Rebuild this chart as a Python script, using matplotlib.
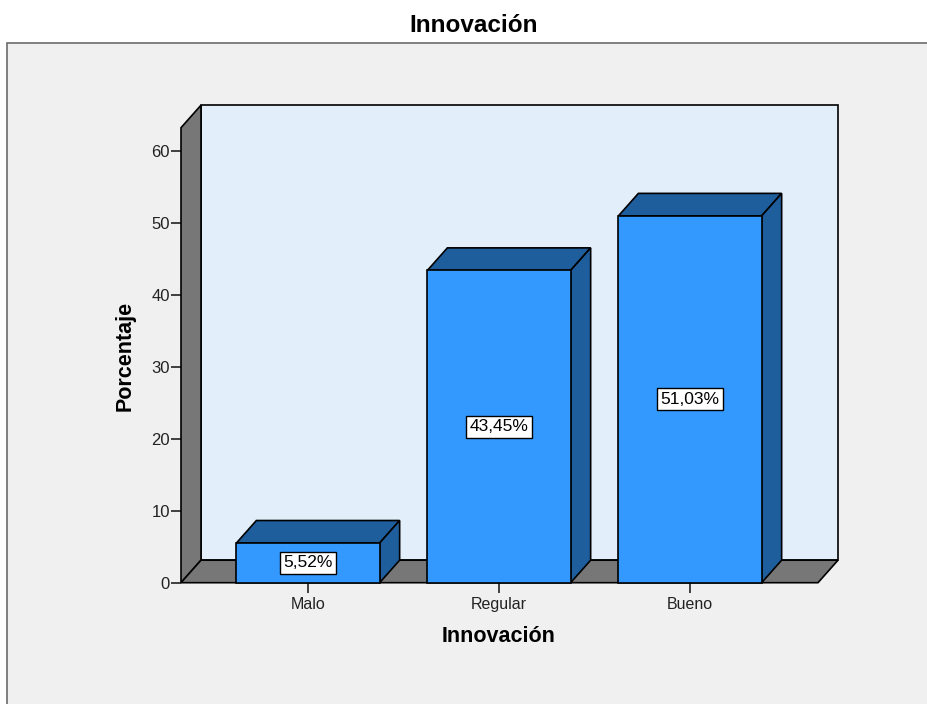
"""
SPSS-style 3D bar chart: Innovación.
"""

import matplotlib
matplotlib.use('Agg')
import matplotlib.pyplot as plt
from matplotlib.patches import Polygon, Rectangle

plt.rcParams['font.family'] = ['Liberation Sans', 'DejaVu Sans']

# Data
categories = ['Malo', 'Regular', 'Bueno']
percentages = [5.52, 43.45, 51.03]
value_labels = ['5,52%', '43,45%', '51,03%']
y_ticks = [0, 10, 20, 30, 40, 50, 60]

# Colours
front_color = '#3399ff'
dark_color = '#1f5e9d'
wall_color = '#e2eefa'
gray_color = '#777777'
panel_color = '#f0f0f0'

W, H = 927, 704
fig = plt.figure(figsize=(W / 100, H / 100), dpi=100)
fig.patch.set_facecolor('white')

# Grey chart panel
fig.patches.append(Rectangle((7 / W, -0.01), 1.0, (H - 43) / H + 0.01,
                             transform=fig.transFigure, facecolor=panel_color,
                             edgecolor='#6b6b6b', linewidth=1.2, zorder=-5))

fig.text(474 / W, 1 - 26 / H, 'Innovación', ha='center', va='center',
         fontsize=17.5, fontweight='bold')

ax = fig.add_axes([181 / W, (H - 582.7) / H, 637 / W, 455 / H])
ax.patch.set_alpha(0)
for s in ax.spines.values():
    s.set_visible(False)

x_lo, x_hi = -0.665, 2.67
y_top = 63.3
ax.set_xlim(x_lo, x_hi)
ax.set_ylim(0, y_top)

# depth of the 3D effect, in data units
ddx = 20 / 191
ddy = 22.5 / 7.183
bar_w = 0.75

# back wall, left wall, floor
ax.add_patch(Polygon([(x_lo + ddx, ddy), (x_hi + ddx, ddy), (x_hi + ddx, y_top + ddy),
                      (x_lo + ddx, y_top + ddy)], closed=True, facecolor=wall_color,
                     edgecolor='black', linewidth=1.2, clip_on=False, zorder=1))
ax.add_patch(Polygon([(x_lo, 0), (x_lo, y_top), (x_lo + ddx, y_top + ddy), (x_lo + ddx, ddy)],
                     closed=True, facecolor=gray_color, edgecolor='black',
                     linewidth=1.2, clip_on=False, zorder=2))
ax.add_patch(Polygon([(x_lo, 0), (x_lo + ddx, ddy), (x_hi + ddx, ddy), (x_hi, 0)],
                     closed=True, facecolor=gray_color, edgecolor='black',
                     linewidth=1.2, clip_on=False, zorder=2))

xs = list(range(len(categories)))
ax.bar(xs, percentages, width=bar_w, color=front_color, edgecolor='black',
       linewidth=1.2, zorder=4, clip_on=False)

for x, h, lab in zip(xs, percentages, value_labels):
    l, r = x - bar_w / 2, x + bar_w / 2
    ax.add_patch(Polygon([(l, h), (r, h), (r + ddx, h + ddy), (l + ddx, h + ddy)],
                         closed=True, facecolor=dark_color, edgecolor='black',
                         linewidth=1.2, clip_on=False, zorder=3))
    ax.add_patch(Polygon([(r, 0), (r + ddx, ddy), (r + ddx, h + ddy), (r, h)],
                         closed=True, facecolor=dark_color, edgecolor='black',
                         linewidth=1.2, clip_on=False, zorder=3))
    ax.text(x, h / 2, lab, ha='center', va='center', fontsize=12.5, zorder=6,
            bbox=dict(boxstyle='square,pad=0.2', facecolor='white',
                      edgecolor='black', linewidth=1.0))

ax.set_yticks(y_ticks)
ax.set_xticks(xs)
ax.set_xticklabels(categories)
ax.tick_params(axis='y', direction='out', length=7, width=1.2, pad=1,
               labelsize=12, colors='#222222')
ax.tick_params(axis='x', direction='out', length=7, width=1.2, pad=3,
               labelsize=11.5, colors='#222222')

ax.set_xlabel('Innovación', fontsize=15.5, fontweight='bold')
ax.set_ylabel('Porcentaje', fontsize=15.5, fontweight='bold')
ax.yaxis.set_label_coords((125 - 181) / 637, 0.5 - (356 - 355) / 455)
ax.xaxis.set_label_coords((499 - 181) / 637, -(637 - 582.7) / 455)
ax.xaxis.label.set_va('center')
ax.yaxis.label.set_va('center')

fig.savefig('out.png', dpi=100)
